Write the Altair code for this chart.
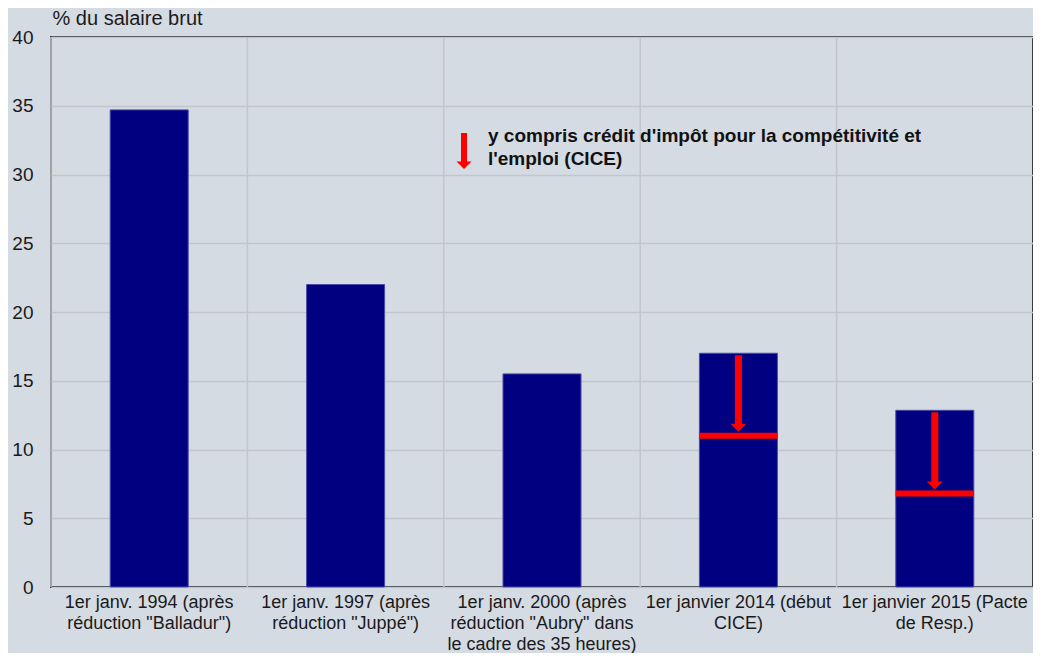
import altair as alt
import pandas as pd

categories = [
    "1er janv. 1994 (après|réduction \"Balladur\")",
    "1er janv. 1997 (après|réduction \"Juppé\")",
    "1er janv. 2000 (après|réduction \"Aubry\" dans|le cadre des 35 heures)",
    "1er janvier 2014 (début|CICE)",
    "1er janvier 2015 (Pacte|de Resp.)",
]
values = [34.7, 22.0, 15.5, 17.0, 12.85]
cice_values = [None, None, None, 11.0, 6.8]
y_ticks = [0, 5, 10, 15, 20, 25, 30, 35, 40]
legend_lines = ["y compris crédit d'impôt pour la compétitivité et", "l'emploi (CICE)"]

df = pd.DataFrame({"cat": categories, "val": values, "cice": cice_values})

FONT = "Liberation Sans"
BG = "#d5dbe3"
GRID = "#c2c6cc"
NAVY = "#000080"
RED = "#ff0000"

x_enc = alt.X("cat:N", sort=categories,
              scale=alt.Scale(paddingInner=0, paddingOuter=0),
              axis=alt.Axis(title=None, labelExpr="split(datum.label, '|')",
                            labelAngle=0, labelAlign="center", labelLimit=400,
                            labelFontSize=18, labelFont=FONT,
                            labelColor="#1a1a1a", labelLineHeight=21,
                            labelPadding=6, ticks=False, domain=False,
                            labelBaseline="top", grid=False))
y_scale = alt.Scale(domain=[0, 40], nice=False)
y_axis = alt.Axis(values=y_ticks, title="% du salaire brut", titleAngle=0,
                  titleAlign="left", titleBaseline="alphabetic", titleX=1,
                  titleY=-13, titleFontSize=20, titleFont=FONT,
                  titleFontWeight="normal", titleColor="#1a1a1a",
                  labelFontSize=19, labelFont=FONT, labelColor="#1a1a1a",
                  labelPadding=18, ticks=False, domain=False, grid=True,
                  gridColor=GRID, gridWidth=1.5)

base = alt.Chart(df)

vgrid = base.mark_rule(color=GRID, strokeWidth=1.5).encode(
    x=alt.X("cat:N", sort=categories, bandPosition=0),
)

bars = base.mark_bar(width=78, color=NAVY, stroke="#4a4aa8", strokeWidth=1).encode(
    x=x_enc,
    y=alt.Y("val:Q", scale=y_scale, axis=y_axis),
)

cice = base.transform_filter("isValid(datum.cice)")

red_line = cice.mark_tick(size=78, thickness=6, color=RED, opacity=1).encode(
    x=alt.X("cat:N", sort=categories),
    y=alt.Y("cice:Q", scale=y_scale),
)

shaft = cice.mark_rule(color=RED, strokeWidth=7, opacity=1, yOffset=2, y2Offset=-9).encode(
    x=alt.X("cat:N", sort=categories),
    y=alt.Y("val:Q", scale=y_scale),
    y2="cice:Q",
)

head = cice.mark_point(shape="M-1,-1L1,-1L0,0Z", size=256, filled=True,
                       color=RED, opacity=1, yOffset=-4).encode(
    x=alt.X("cat:N", sort=categories),
    y=alt.Y("cice:Q", scale=y_scale),
)

ann = alt.Chart(alt.Data(values=[{}]))
leg_shaft = ann.mark_rule(color=RED, strokeWidth=6, opacity=1).encode(
    x=alt.value(413), y=alt.value(96), y2=alt.value(125))
leg_head = ann.mark_point(shape="M-1,-1L1,-1L0,0Z", size=225, filled=True,
                          color=RED, opacity=1).encode(
    x=alt.value(413), y=alt.value(132))
leg_text = ann.mark_text(text=legend_lines, align="left", baseline="alphabetic",
                         font=FONT, fontSize=19, fontWeight="bold",
                         color="#111111", lineHeight=23).encode(
    x=alt.value(437), y=alt.value(105))

chart = alt.layer(vgrid, bars, red_line, shaft, head, leg_shaft, leg_head, leg_text).properties(
    width=982, height=550,
    autosize=alt.AutoSizeParams(type="none"),
    padding={"left": 43, "top": 29, "right": 0, "bottom": 66},
    background=BG,
).configure_view(stroke="#3a3a3a", strokeWidth=2)

chart.save("out.html", embed_options={"renderer": "svg", "actions": False})
